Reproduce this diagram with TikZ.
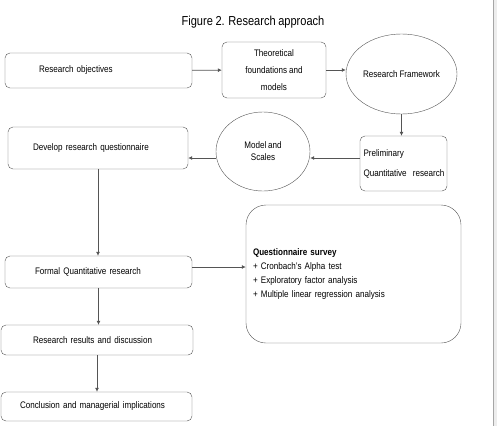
\documentclass[tikz,border=0pt]{standalone}
\usepackage{fontspec}
\setmainfont{Liberation Sans}[FakeStretch=0.85,WordSpace=0.85]
\usepackage{tikz}
\usetikzlibrary{arrows.meta,positioning,calc,shapes.geometric}
\definecolor{edge}{HTML}{555555}

\begin{document}
\begin{tikzpicture}[
    x=1pt,y=-1pt,
    every node/.style={font=\fontsize{9.5}{12}\selectfont,inner sep=0pt},
    box/.style={draw=edge,rounded corners=5pt,align=left},
    oval/.style={draw=edge,ellipse,align=center},
    arr/.style={-{Latex[length=4pt,width=4pt]},draw=edge,line width=0.7pt}
]
\useasboundingbox (0,0) rectangle (497,426);
\fill[black!7] (493,0) rectangle (497,426);
\draw[black!35] (493,0) -- (493,426);

\node[font=\fontsize{13}{15}\selectfont] (title) at (253,22) {Figure 2. Research approach};

\node[box,minimum width=187pt,minimum height=35pt,text width=119pt] (obj) at (98.5,70.5) {Research objectives};
\node[box,minimum width=104pt,minimum height=56pt,align=center,font=\fontsize{9.5}{17}\selectfont] (theo) at (274,70) {Theoretical\\foundations and\\models};
\node[oval,minimum width=111pt,minimum height=80pt] (frame) at (401.5,74) {Research Framework};
\node[box,minimum width=87pt,minimum height=55pt,text width=80pt,font=\fontsize{9.5}{20}\selectfont] (prelim) at (403.5,163.5) {Preliminary\\\mbox{Quantitative\ \ research}};
\node[oval,minimum width=94pt,minimum height=79pt] (model) at (263,151.5) {Model and\\Scales};
\node[box,minimum width=180pt,minimum height=42pt,text width=130pt] (develop) at (98,148) {Develop research questionnaire};
\node[box,minimum width=187pt,minimum height=32pt,text width=127pt] (formal) at (98.5,272) {Formal Quantitative research};
\node[box,rounded corners=20pt,minimum width=215pt,minimum height=138pt,text width=201pt,font=\fontsize{9.5}{14}\selectfont] (survey) at (353.5,274) {\textbf{Questionnaire survey}\\+ Cronbach's Alpha test\\+ Exploratory factor analysis\\+ Multiple linear regression analysis};
\node[box,minimum width=192pt,minimum height=30pt,text width=128pt] (results) at (97,340) {Research results and discussion};
\node[box,minimum width=191pt,minimum height=29pt,text width=153pt] (concl) at (96.5,406.5) {Conclusion and managerial implications};

\draw[arr] (obj) -- (theo);
\draw[arr] (theo.east) -- (theo.east -| frame.west);
\draw[arr] (frame.south) -- (frame.south |- prelim.north);
\draw[arr] ([yshift=5.5pt]prelim.west) -- ([yshift=-6.5pt]model.east);
\draw[arr] ([yshift=-6.5pt]model.west) -- ([yshift=-10pt]develop.east);
\draw[arr] (develop.south) -- (develop.south |- formal.north);
\draw[arr] ([yshift=5pt]formal.east) -- ([yshift=5pt]formal.east -| survey.west);
\draw[arr] (formal.south) -- (formal.south |- results.north);
\draw[arr] (results.south) -- (results.south |- concl.north);
\end{tikzpicture}
\end{document}
